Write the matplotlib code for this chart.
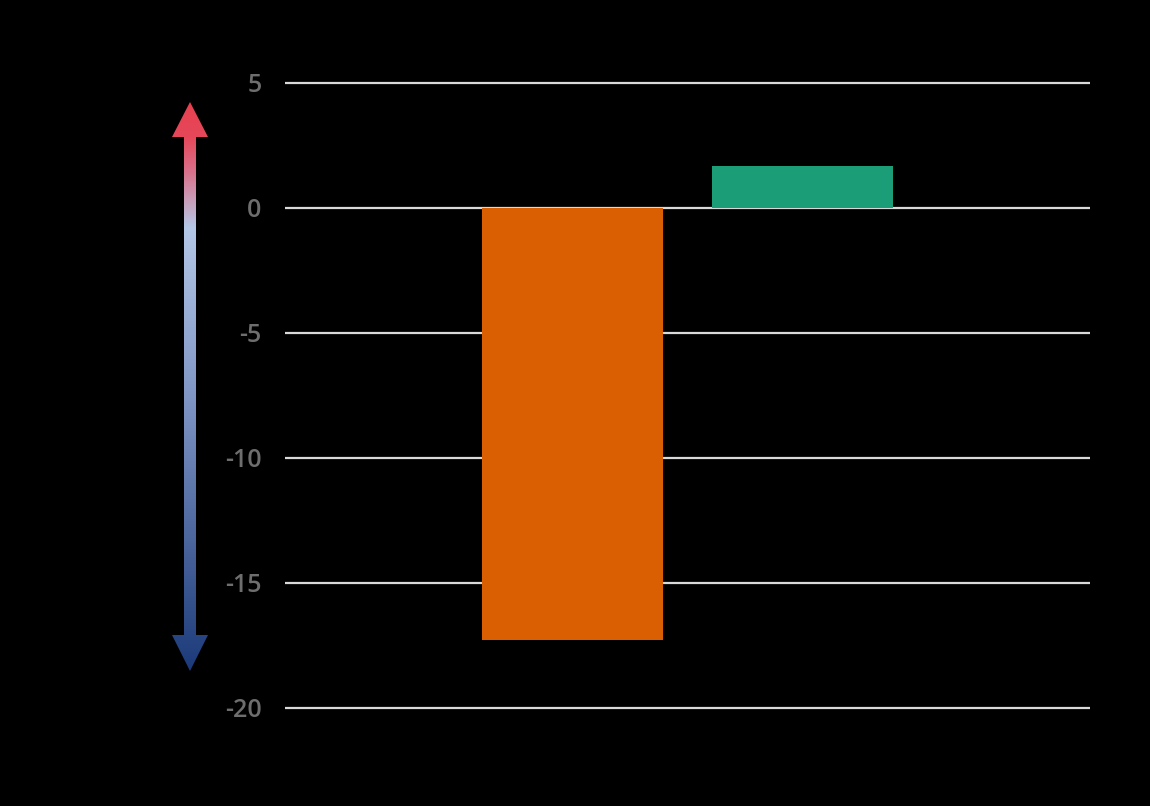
import matplotlib
matplotlib.use("Agg")
import matplotlib.pyplot as plt
import numpy as np
from matplotlib.colors import LinearSegmentedColormap
from matplotlib.patches import Polygon

categories = ["Series 1", "Series 2"]
values = [-17.28, 1.68]
colors = ["#D95F02", "#1B9E77"]
yticks = [5, 0, -5, -10, -15, -20]

W, H = 1150, 806
fig = plt.figure(figsize=(W / 100, H / 100), dpi=100, facecolor="black")

# axes pixel geometry
px_per_unit = (707.5 - 83) / 25.0
ymin, ymax = -20.3, 5.3
top_px = 83 - (ymax - 5) * px_per_unit
bot_px = 707.5 + (-20 - ymin) * px_per_unit
left_px, right_px = 285, 1090
ax = fig.add_axes([left_px / W, 1 - bot_px / H, (right_px - left_px) / W, (bot_px - top_px) / H])
ax.set_facecolor("black")

x = np.arange(len(categories))
ax.bar(x, values, width=0.79, color=colors, zorder=3)
ax.set_xlim(-1.25, 2.25)
ax.set_ylim(ymin, ymax)
ax.set_yticks(yticks)
ax.set_yticklabels([str(t) for t in yticks], fontsize=18, color="#6e6e6e",
                   fontfamily="Open Sans", fontweight="semibold")
ax.tick_params(axis="y", length=0, pad=17)
ax.set_xticks([])
for s in ax.spines.values():
    s.set_visible(False)
ax.yaxis.grid(True, color="#d9d9d9", linewidth=1.6, zorder=1)
ax.set_axisbelow(True)

# gradient arrow decoration
oax = fig.add_axes([0, 0, 1, 1], zorder=-1)
oax.set_xlim(0, W)
oax.set_ylim(H, 0)
oax.axis("off")
cmap = LinearSegmentedColormap.from_list(
    "arr", [(0.0, "#E8414F"), (0.06, "#E5485A"), (0.12, "#D9708A"), (0.17, "#C99DB8"),
            (0.22, "#B4C7E7"), (0.52, "#7F95C4"), (1.0, "#1C3A7A")])
grad = np.linspace(0, 1, 256).reshape(-1, 1)
cx = 190
poly = Polygon([(cx, 102), (208, 137), (196, 137), (196, 635), (208, 635), (cx, 671),
                (172, 635), (184, 635), (184, 137), (172, 137)], closed=True,
               facecolor="none", edgecolor="none", transform=oax.transData)
oax.add_patch(poly)
im = oax.imshow(grad, cmap=cmap, extent=(172, 208, 671, 102), aspect="auto",
                interpolation="bilinear")
im.set_clip_path(poly)

fig.savefig("out.png", dpi=100, facecolor="black")
